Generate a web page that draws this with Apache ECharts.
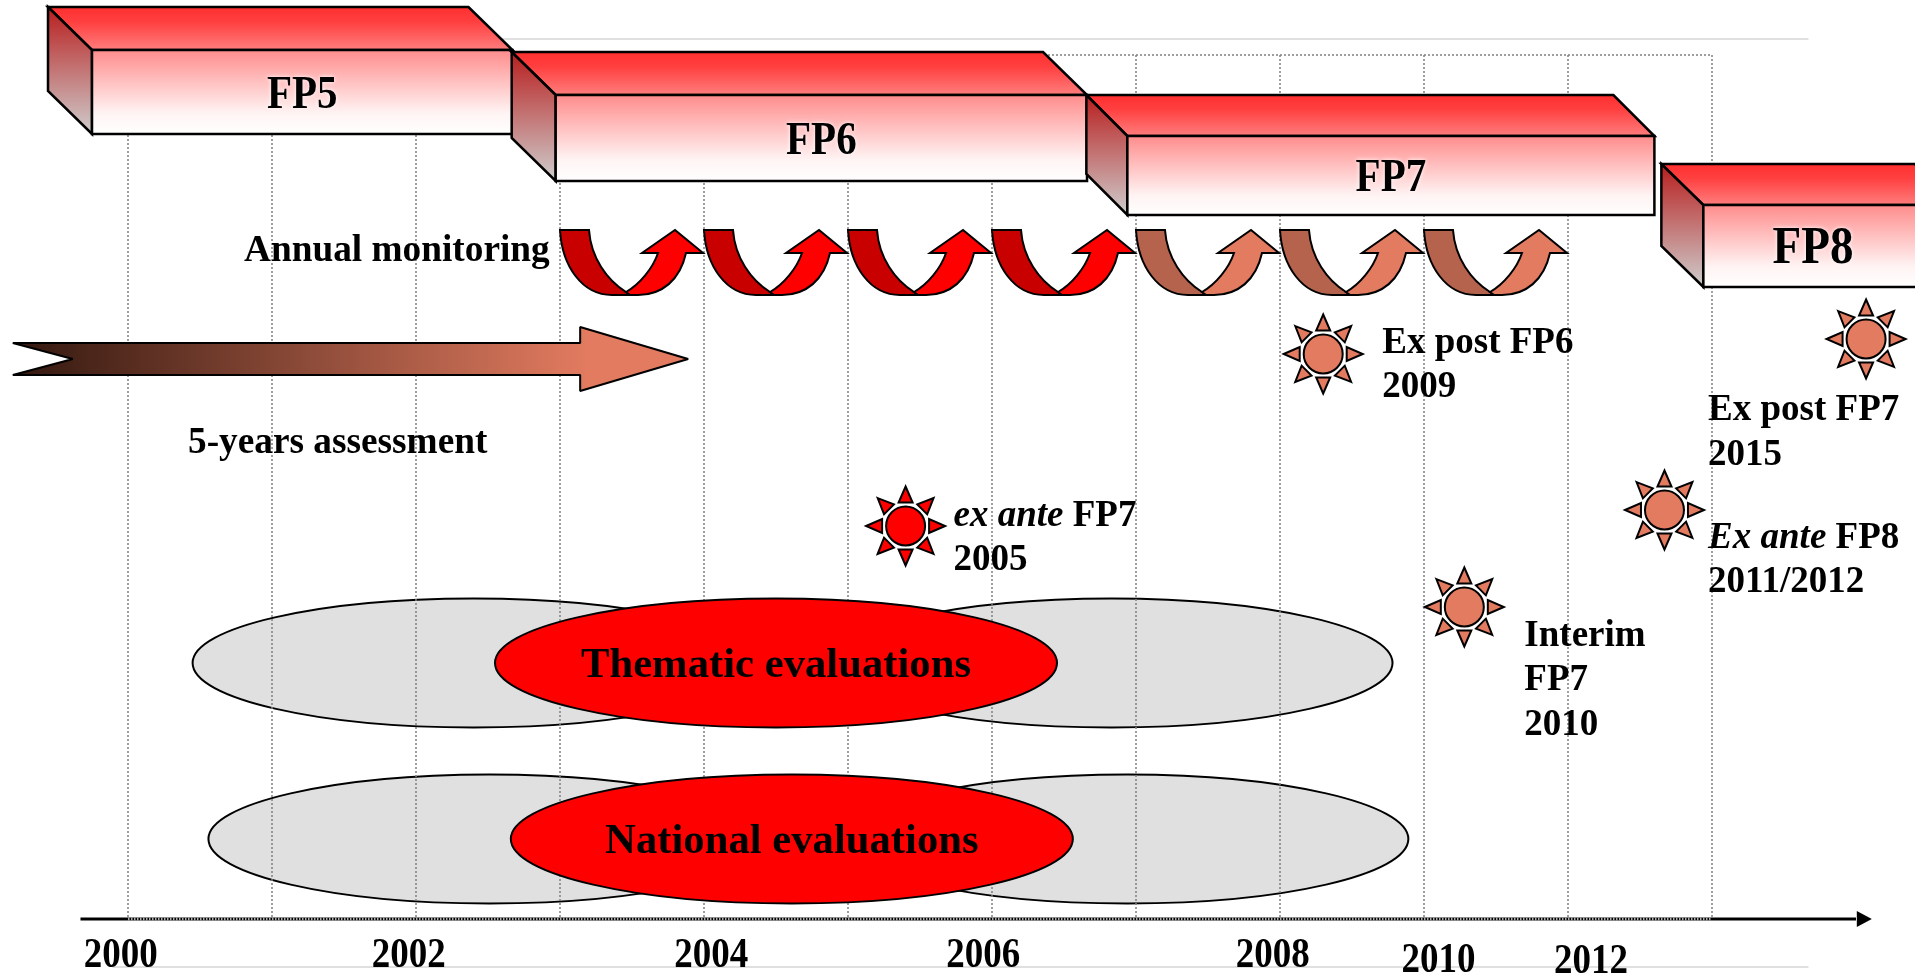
<!DOCTYPE html>
<html>
<head>
<meta charset="utf-8">
<title>FP evaluation timeline</title>
<style>
html, body { margin: 0; padding: 0; background: #fff; overflow: hidden; }
#chart { width: 1915px; height: 974px; }
</style>
<script src="https://cdn.jsdelivr.net/npm/echarts@6/dist/echarts.min.js"></script>
</head>
<body>
<div id="chart"></div>
<script>
// data (x values are in years on the time axis)
const gridYears = [2000, 2001, 2002, 2003, 2004, 2005, 2006, 2007, 2008, 2009, 2010, 2011];
const axisLabels = ['2000', '2002', '2004', '2006', '2008', '2010', '2012'];
const axisLabelYears = [1999.95, 2001.95, 2004.05, 2005.94, 2007.95, 2009.1, 2010.16];

const fpNames = ['FP5', 'FP6', 'FP7', 'FP8'];
const fpStart = [1999.75, 2002.97, 2006.94, 2010.94];
const fpEnd = [2002.67, 2006.66, 2010.6, 2012.7];

const monitoringYears = [2003, 2004, 2005, 2006, 2007, 2008, 2009];
const assessmentSpan = [1999.2, 2003.14, 2003.89];

const ellipseNames = ['Thematic evaluations', 'National evaluations'];
const ellipseLeft = [2002.4, 2002.51];
const ellipseRight = [2006.83, 2006.94];
const ellipseMiddle = [2004.5, 2004.61];

const sunYears = [2005.4, 2008.3, 2012.07, 2010.67, 2009.28];
const noteYears = [2005.733, 2008.71, 2010.973, 2010.973, 2009.697];
const noteLines = [
    ['{i|ex ante} FP7', '2005'],
    ['Ex post FP6', '2009'],
    ['Ex post FP7', '2015'],
    ['{i|Ex ante} FP8', '2011/2012'],
    ['Interim', 'FP7', '2010']
];

// layout: vertical rows, the y axis just runs 0..974 down the page
const fpRows = [[7, 50, 134], [52, 95, 181], [95, 136, 215], [164, 205, 287]];
const fpDepth = [44, 44, 41, 42];
const fpFont = [41, 41, 41, 47];
const fpLabelShift = [4.5, 4, 4, 3];
const sunRows = [526, 354, 339, 510, 607];
const noteRows = [516, 343, 410.5, 538, 636];
const ellipseRows = [663, 839];
const axisLabelRows = [956, 956, 956, 956, 956, 961, 962];
const AXIS_ROW = 919;
const SERIF = '"Liberation Serif", "Times New Roman", serif';
const RED = '#ff0000';
const DARK_RED = '#c80000';
const SALMON = '#e27b60';
const DARK_SALMON = '#b5634c';

function vGrad(stops) {
    return {
        type: 'linear', x: 0, y: 0, x2: 0, y2: 1,
        colorStops: stops.map(c => ({ offset: c[0], color: c[1] }))
    };
}

function boldText(text, x, y, size, extra) {
    return Object.assign({
        type: 'text',
        x: x,
        y: y,
        style: {
            text: text,
            fill: '#000',
            font: 'bold ' + size + 'px ' + SERIF,
            align: 'left',
            verticalAlign: 'middle'
        }
    }, extra || {});
}

// 构造 custom 系列
function layer(z, count, renderItem) {
    return {
        type: 'custom',
        coordinateSystem: 'cartesian2d',
        z: z,
        clip: false,
        silent: true,
        animation: false,
        data: Array.from({ length: count }, (_, i) => [i]),
        encode: { x: 0 },
        renderItem: renderItem
    };
}

function renderRules(params, api) {
    const rows = [39, 967];
    const a = api.coord([1999.89, rows[params.dataIndex]]);
    const b = api.coord([2011.67, rows[params.dataIndex]]);
    return { type: 'line', shape: { x1: a[0], y1: a[1], x2: b[0], y2: b[1] }, style: { stroke: '#e0e0e0', lineWidth: 2 } };
}

function renderGreyEllipses(params, api) {
    const i = params.dataIndex;
    const children = [ellipseLeft[i], ellipseRight[i]].map(year => {
        const c = api.coord([year, ellipseRows[i]]);
        return { type: 'ellipse', shape: { cx: c[0], cy: c[1], rx: 281, ry: 64.5 }, style: { fill: '#e0e0e0', stroke: '#000', lineWidth: 2 } };
    });
    return { type: 'group', children: children };
}

function renderGrid(params, api) {
    const year = gridYears[params.dataIndex];
    const a = api.coord([year, 55]);
    const b = api.coord([year, AXIS_ROW]);
    return { type: 'line', shape: { x1: a[0], y1: a[1], x2: b[0], y2: b[1] }, style: { stroke: '#808080', lineWidth: 1.5, lineDash: [2, 2] } };
}

function renderGridTop(params, api) {
    const a = api.coord([gridYears[0], 55]);
    const b = api.coord([gridYears[gridYears.length - 1], 55]);
    return { type: 'line', shape: { x1: a[0], y1: a[1], x2: b[0], y2: b[1] }, style: { stroke: '#808080', lineWidth: 1.5, lineDash: [2, 2] } };
}

function renderBlock(params, api) {
    const i = params.dataIndex;
    const r = fpRows[i];
    const d = fpDepth[i];
    const tl = api.coord([fpStart[i], r[1]]);
    const br = api.coord([fpEnd[i], r[2]]);
    const back = r[1] - r[0];
    const stroke = { stroke: '#000', lineWidth: 2.5, lineJoin: 'miter' };
    const top = { type: 'polygon', shape: { points: [[tl[0] - d, tl[1] - back], [br[0] - d, tl[1] - back], [br[0], tl[1]], [tl[0], tl[1]]] },
        style: Object.assign({ fill: vGrad([[0, '#ff2e2e'], [0.35, '#ff3f3f'], [1, '#ff8080']]) }, stroke) };
    const side = { type: 'polygon', shape: { points: [[tl[0] - d, tl[1] - back], [tl[0], tl[1]], [tl[0], br[1]], [tl[0] - d, br[1] - back]] },
        style: Object.assign({ fill: vGrad([[0, '#b81c1c'], [1, '#cfcfcf']]) }, stroke) };
    const front = { type: 'rect', shape: { x: tl[0], y: tl[1], width: br[0] - tl[0], height: br[1] - tl[1] },
        style: Object.assign({ fill: vGrad([[0, '#ff8a8a'], [0.75, '#fff4f4'], [1, '#ffffff']]) }, stroke) };
    const cx = i === 3 ? 1813 : (tl[0] + br[0]) / 2;
    const label = boldText(fpNames[i], cx, (tl[1] + br[1]) / 2 + fpLabelShift[i], fpFont[i], { scaleY: 1.12 });
    label.style.align = 'center';
    label.style.textShadowColor = '#fff';
    label.style.textShadowBlur = 4;
    return { type: 'group', children: [top, side, front, label] };
}

function renderMonitoring(params, api) {
    const i = params.dataIndex;
    const c = api.coord([monitoringYears[i], 230]);
    const old = i > 3;
    const common = { stroke: '#000', lineWidth: 2, lineJoin: 'miter' };
    const under = {
        type: 'path', x: c[0], y: c[1],
        shape: { pathData: 'M0 0 L29 0 C31 28 47 50 66 62 L70 65 L52 65 C22 65 2 36 0 0 Z' },
        style: Object.assign({ fill: old ? DARK_SALMON : DARK_RED }, common)
    };
    const over = {
        type: 'path', x: c[0], y: c[1],
        shape: { pathData: 'M66 62 C80 54 93 38 98 23 L82 23 L115 0 L143 23 L126 23 C120 50 102 65 78 65 L70 65 Z' },
        style: Object.assign({ fill: old ? SALMON : RED }, common)
    };
    return { type: 'group', children: [under, over] };
}

function renderAssessment(params, api) {
    const tail = api.coord([assessmentSpan[0], 343]);
    const notch = api.coord([assessmentSpan[0], 359]);
    const neck = api.coord([assessmentSpan[1], 343]);
    const tip = api.coord([assessmentSpan[2], 359]);
    return {
        type: 'polygon',
        shape: { points: [
            [tail[0], tail[1]], [neck[0], neck[1]], [neck[0], neck[1] - 16], [tip[0], tip[1]],
            [neck[0], neck[1] + 48], [neck[0], neck[1] + 32], [tail[0], tail[1] + 32], [notch[0] + 60, notch[1]]
        ] },
        style: {
            fill: { type: 'linear', x: 0, y: 0, x2: 1, y2: 0, colorStops: [{ offset: 0, color: '#33180f' }, { offset: 0.85, color: SALMON }, { offset: 1, color: SALMON }] },
            stroke: '#000', lineWidth: 2, lineJoin: 'bevel'
        }
    };
}

function renderRedEllipses(params, api) {
    const i = params.dataIndex;
    const c = api.coord([ellipseMiddle[i], ellipseRows[i]]);
    const label = boldText(ellipseNames[i], c[0], c[1] + 3, 42.7, {});
    label.style.align = 'center';
    return { type: 'group', children: [
        { type: 'ellipse', shape: { cx: c[0], cy: c[1], rx: 281, ry: 64.5 }, style: { fill: RED, stroke: '#000', lineWidth: 2 } },
        label
    ] };
}

function renderSun(params, api) {
    const i = params.dataIndex;
    const c = api.coord([sunYears[i], sunRows[i]]);
    const fill = i === 0 ? RED : SALMON;
    const children = [{ type: 'circle', shape: { cx: c[0], cy: c[1], r: 19.5 }, style: { fill: fill, stroke: '#000', lineWidth: 2 } }];
    for (let k = 0; k < 8; k++) {
        const a = k * Math.PI / 4;
        const cos = Math.cos(a);
        const sin = Math.sin(a);
        children.push({
            type: 'polygon',
            shape: { points: [
                [c[0] + cos * 39.5, c[1] + sin * 39.5],
                [c[0] + cos * 23.5 - sin * 7, c[1] + sin * 23.5 + cos * 7],
                [c[0] + cos * 23.5 + sin * 7, c[1] + sin * 23.5 - cos * 7]
            ] },
            style: { fill: fill, stroke: '#000', lineWidth: 2, lineJoin: 'miter' }
        });
    }
    return { type: 'group', children: children };
}

function renderNotes(params, api) {
    const i = params.dataIndex;
    const c = api.coord([noteYears[i], noteRows[i]]);
    const children = noteLines[i].map((line, k) => {
        const el = boldText(line, c[0], c[1] + k * 44.5, 37, {});
        el.style.rich = { i: { font: 'italic bold 37px ' + SERIF, fill: '#000' } };
        return el;
    });
    return { type: 'group', children: children };
}

function renderAxis(params, api) {
    const a = api.coord([1999.67, AXIS_ROW]);
    const b = api.coord([2012.0, AXIS_ROW]);
    const s = api.coord([gridYears[0], AXIS_ROW]);
    const e = api.coord([gridYears[gridYears.length - 1], AXIS_ROW]);
    const tip = api.coord([2012.11, AXIS_ROW]);
    return { type: 'group', children: [
        { type: 'line', shape: { x1: a[0], y1: a[1], x2: b[0], y2: b[1] }, style: { stroke: '#000', lineWidth: 3 } },
        { type: 'line', shape: { x1: s[0], y1: s[1], x2: e[0], y2: e[1] }, style: { stroke: '#aaaaaa', lineWidth: 3, lineDash: [1.5, 1.5] } },
        { type: 'polygon', shape: { points: [[tip[0] - 15, tip[1] - 8], [tip[0], tip[1]], [tip[0] - 15, tip[1] + 8]] }, style: { fill: '#000' } }
    ] };
}

function renderAxisLabel(params, api) {
    const i = params.dataIndex;
    const c = api.coord([axisLabelYears[i], axisLabelRows[i]]);
    const el = boldText(axisLabels[i], c[0], c[1], 37, { scaleY: 1.12 });
    el.style.align = 'center';
    return el;
}

function renderCaptions(params, api) {
    const captions = [['Annual monitoring', 244, 251.5], ['5-years assessment', 188, 443.5]];
    const cap = captions[params.dataIndex];
    const c = api.coord([2000 + (cap[1] - 128) / 144, cap[2]]);
    return boldText(cap[0], c[0], c[1], 37.3, {});
}

const chart = echarts.init(document.getElementById('chart'), null, { renderer: 'canvas' });

// x 轴: 每年 144px, 2000 年在 128px
const xMin = 2000 - 128 / 144;
const xMax = xMin + 1915 / 144;

chart.setOption({
    animation: false,
    backgroundColor: '#fff',
    grid: { left: 0, right: 0, top: 0, bottom: 0 },
    xAxis: { type: 'value', min: xMin, max: xMax, show: false },
    yAxis: { type: 'value', min: 0, max: 974, inverse: true, show: false },
    series: [
        layer(1, 2, renderRules),
        layer(2, 2, renderGreyEllipses),
        layer(3, gridYears.length, renderGrid),
        layer(3, 1, renderGridTop),
        layer(4, fpNames.length, renderBlock),
        layer(5, monitoringYears.length, renderMonitoring),
        layer(5, 1, renderAssessment),
        layer(6, ellipseNames.length, renderRedEllipses),
        layer(6, sunYears.length, renderSun),
        layer(7, noteLines.length, renderNotes),
        layer(7, 2, renderCaptions),
        layer(7, 1, renderAxis),
        layer(8, axisLabels.length, renderAxisLabel)
    ]
});

window.addEventListener('resize', function() {
    chart.resize();
});
</script>
</body>
</html>
